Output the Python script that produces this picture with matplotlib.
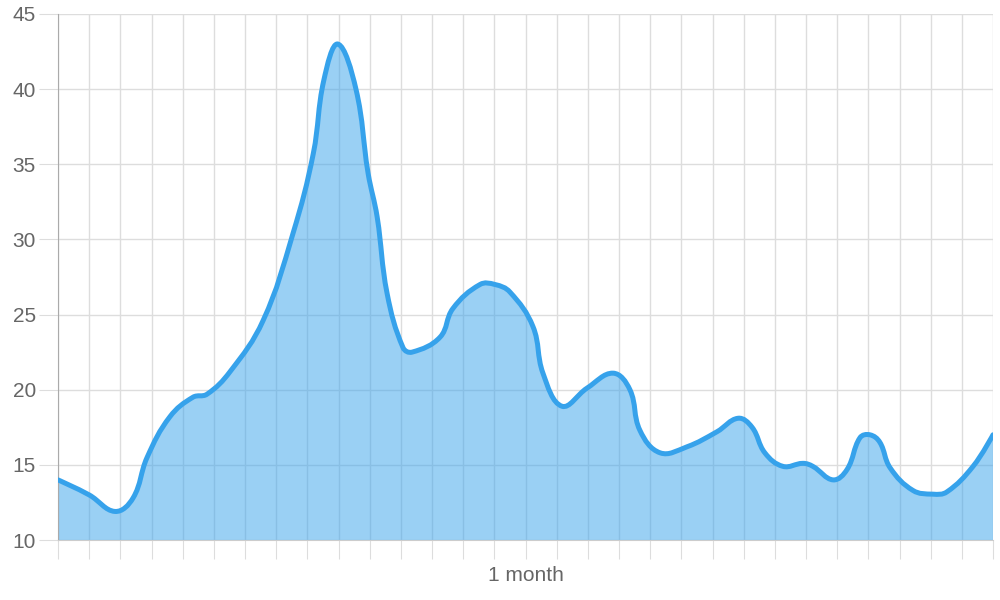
import matplotlib
matplotlib.use("Agg")
import matplotlib.pyplot as plt
import numpy as np
from matplotlib.path import Path
from matplotlib.patches import PathPatch

plt.rcParams['font.family'] = ['Liberation Sans', 'DejaVu Sans']

# points (x in days, y in value)
days = [0.0, 1.0, 1.83, 2.41, 2.86, 3.59, 4.33, 4.78, 5.52, 6.58, 7.54, 8.19,
        8.53, 8.98, 9.56, 9.95, 10.24, 10.56, 11.07, 11.36, 12.26, 12.67, 13.54,
        14.02, 14.50, 15.24, 15.56, 16.17, 16.97, 17.81, 18.35, 18.67, 19.32,
        20.18, 21.14, 21.82, 22.27, 22.68, 23.26, 23.90, 24.22, 24.87, 25.32,
        25.73, 26.05, 26.37, 26.70, 27.43, 28.07, 28.52, 29.36, 30.0]
values = [14.0, 13.0, 11.9, 12.8, 15.5, 18.2, 19.5, 19.7, 21.2, 24.6, 30.4, 35.7,
          40.6, 43.0, 40.0, 34.4, 31.5, 26.4, 22.8, 22.5, 23.5, 25.4, 27.0,
          27.0, 26.5, 24.2, 21.1, 18.9, 20.1, 21.1, 20.0, 17.3, 15.8,
          16.2, 17.2, 18.1, 17.5, 15.8, 14.9, 15.1, 14.9, 14.0, 14.7,
          16.8, 17.0, 16.5, 14.8, 13.3, 13.05, 13.2, 14.9, 17.0]
tick_days = list(range(31))
tick_labels = ['1 month' if d == 15 else '' for d in tick_days]
y_ticks = [10, 15, 20, 25, 30, 35, 40, 45]

line_color = '#36A2EB'
fill_color = (54/255, 162/255, 235/255, 0.5)
grid_color = '#dddddd'
text_color = '#666666'

fig = plt.figure(figsize=(10, 6), dpi=100)
ax = fig.add_axes([0.058, 0.1, 0.935, 0.8767])
ax.set_xlim(0, 30)
ax.set_ylim(10, 45)

# spline like chart.js (tension 0.4), computed in pixel space
pts = ax.transData.transform(np.column_stack([days, values]))
n = len(pts)
tension = 0.4
cp_in = pts.copy()
cp_out = pts.copy()
for i in range(1, n - 1):
    p0, p1, p2 = pts[i - 1], pts[i], pts[i + 1]
    d01 = np.hypot(*(p1 - p0))
    d12 = np.hypot(*(p2 - p1))
    s01 = d01 / (d01 + d12)
    s12 = d12 / (d01 + d12)
    cp_in[i] = p1 - tension * s01 * (p2 - p0)
    cp_out[i] = p1 + tension * s12 * (p2 - p0)

verts = [pts[0]]
codes = [Path.MOVETO]
for i in range(n - 1):
    verts += [cp_out[i], cp_in[i + 1], pts[i + 1]]
    codes += [Path.CURVE4] * 3
inv = ax.transData.inverted()
verts_d = inv.transform(np.array(verts))

curve = Path(verts_d, codes)
fill_verts = np.vstack([verts_d, [[days[-1], 10], [days[0], 10], verts_d[0]]])
fill_codes = codes + [Path.LINETO, Path.LINETO, Path.CLOSEPOLY]
ax.add_patch(PathPatch(Path(fill_verts, fill_codes), facecolor=fill_color,
                       edgecolor='none', zorder=2))
ax.add_patch(PathPatch(curve, facecolor='none', edgecolor=line_color, lw=3.6,
                       capstyle='round', joinstyle='round', zorder=3))

ax.set_xticks(tick_days)
ax.set_xticklabels(tick_labels)
ax.set_yticks(y_ticks)
ax.grid(True, color=grid_color, lw=1, zorder=0)
ax.set_axisbelow(True)
ax.tick_params(axis='x', length=14, color=grid_color, labelsize=15,
               labelcolor=text_color, pad=5)
ax.tick_params(axis='y', length=14, color=grid_color, labelsize=15,
               labelcolor=text_color, pad=2)
for s in ['top', 'right']:
    ax.spines[s].set_visible(False)
ax.spines['left'].set_color('#aaaaaa')
ax.spines['bottom'].set_color('#cccccc')

fig.savefig('out.png', dpi=100)
